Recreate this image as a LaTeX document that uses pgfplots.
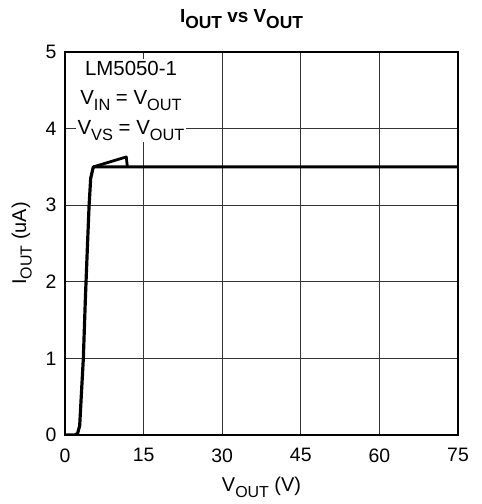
\documentclass[border=0pt]{standalone}
\usepackage{graphicx}
\usepackage{pgfplots}
\pgfplotsset{compat=1.18}
\usepackage{fontspec}
\setmainfont{Liberation Sans}
\newcommand{\sub}[1]{\raisebox{-0.28em}{\scalebox{0.8}{#1}}}
\newcommand{\bsub}[1]{\raisebox{-0.3em}{\scalebox{0.92}{#1}}}

\begin{document}
\begin{tikzpicture}
  \begin{axis}[
      scale only axis,
      width=393bp, height=383bp,
      xmin=0, xmax=75, ymin=0, ymax=5,
      xtick={0,15,30,45,60,75},
      ytick={0,1,2,3,4,5},
      grid=major,
      major grid style={black!80, line width=0.9pt},
      major tick length=0pt,
      axis line style={line width=2pt},
      /pgf/number format/assume math mode=true,
      tick label style={font=\fontsize{19.5}{23}\selectfont},
      xticklabel style={yshift=-10bp},
      yticklabel style={xshift=-5bp},
      label style={font=\fontsize{20}{24}\selectfont},
      xlabel={V\sub{OUT} (V)},
      ylabel={I\sub{OUT} (uA)},
      xlabel style={yshift=-8bp},
      ylabel style={yshift=7bp},
      title={\textbf{I\bsub{OUT} vs V\bsub{OUT}}},
      title style={font=\fontsize{19}{23}\selectfont, yshift=14bp, xshift=-20bp},
    ]
    % main curve, rising edge and hysteresis loop
    \addplot[black, line width=3.2pt, mark=none, line join=round] coordinates {
      (0,0) (1.9,0) (2.4,0.02) (2.8,0.12) (3.1,0.5) (3.5,1.0)
      (3.9,1.8) (4.3,2.5) (4.6,3.0) (4.9,3.35) (5.4,3.5)
      (11.8,3.5) (75,3.5)
    };
    \addplot[black, line width=2.8pt, mark=none, line join=round] coordinates {
      (5.4,3.5) (11.7,3.63) (11.9,3.5)
    };
    \node[fill=white, inner sep=1.5pt, align=center, font=\fontsize{20.5}{30}\selectfont]
      at (axis cs:12.6,3.82) [anchor=south] {LM5050-1\\
      V\sub{IN} = V\sub{OUT}\\
      V\sub{VS} = V\sub{OUT}};
  \end{axis}
  \path ([xshift=-65bp,yshift=-69bp]current axis.south west)
    rectangle ([xshift=24bp,yshift=52bp]current axis.north east);
\end{tikzpicture}
\end{document}
